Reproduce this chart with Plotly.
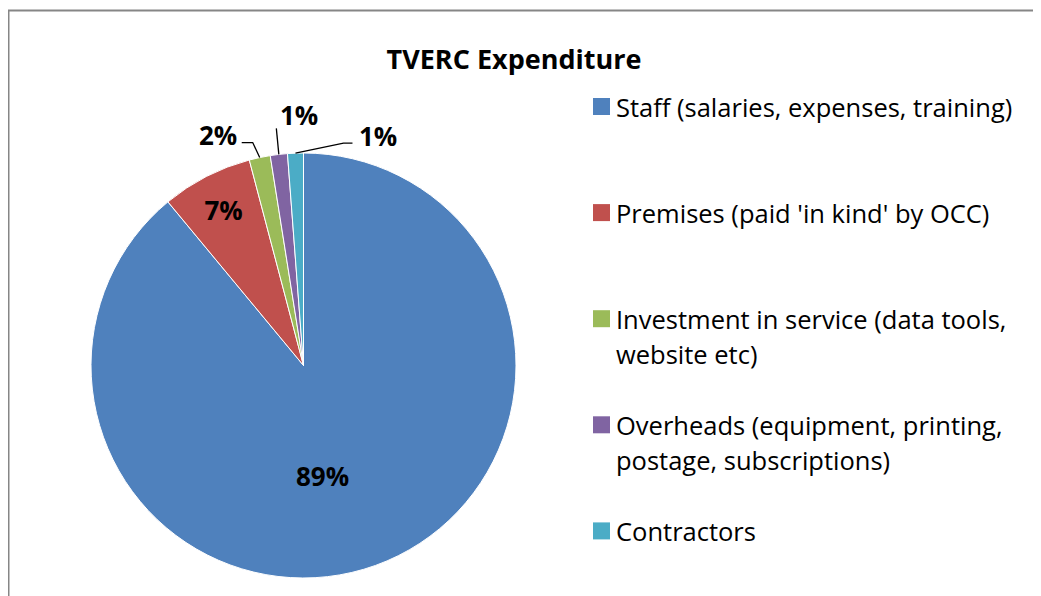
import math
import plotly.graph_objects as go

# data
labels = [
    "Staff (salaries, expenses, training)",
    "Premises (paid 'in kind' by OCC)",
    "Investment in service (data tools,<br>website etc)",
    "Overheads (equipment, printing,<br>postage, subscriptions)",
    "Contractors",
]
values = [88.9, 6.9, 1.6, 1.3, 1.2]
colors = ["#4F81BD", "#C0504D", "#9BBB59", "#8064A2", "#4BACC6"]

# page has an 8px body margin, so the figure is a bit smaller than the window
OFF = 8
W, H = 1041 - OFF, 596 - OFF
FONT = "Open Sans"
LEG_SIZE = 25.5
LAB_SIZE = 26
TITLE_SIZE = 27


def px_x(x):
    return (x - OFF) / W


def px_y(y):
    return 1 - (y - OFF) / H


# pie geometry (window pixels)
cx, cy, r = 303.5, 365.5, 212.5

fig = go.Figure(
    go.Pie(
        labels=[l.replace("<br>", " ") for l in labels],
        values=values,
        sort=False,
        direction="clockwise",
        rotation=0,
        marker=dict(colors=colors, line=dict(color="white", width=1)),
        texttemplate="%{percent:.0%}",
        textposition=["none", "inside", "none", "none", "none"],
        insidetextorientation="horizontal",
        textfont=dict(family=FONT, size=LAB_SIZE, color="black", weight="bold"),
        domain=dict(x=[px_x(cx - r), px_x(cx + r)], y=[px_y(cy + r), px_y(cy - r)]),
        showlegend=False,
        hoverinfo="label+percent",
    )
)

shapes = []
annotations = []
total = sum(values)

# big slice label, Excel puts it a little left of the slice middle
annotations.append(
    dict(
        text=f"<b>{round(100 * values[0] / total)}%</b>",
        x=px_x(cx + 19),
        y=px_y(cy + 110),
        xref="paper",
        yref="paper",
        xanchor="center",
        yanchor="middle",
        showarrow=False,
        font=dict(family=FONT, size=LAB_SIZE, color="black"),
    )
)

# outside labels with leader lines for the small slices
# (elbow dx, elbow dy, end dx, label side)
leaders = {
    2: (-7, -15, -11, "left"),
    3: (-2.5, -26, 0, "up"),
    4: (48, -10, 9, "right"),
}
cum = 0
for i, v in enumerate(values):
    theta = math.radians(360 * (cum + v / 2) / total)
    cum += v
    if i not in leaders:
        continue
    ax_ = cx + r * math.sin(theta)
    ay_ = cy - r * math.cos(theta)
    edx, edy, endx, side = leaders[i]
    ex, ey = ax_ + edx, ay_ + edy
    fx = ex + endx
    shapes.append(
        dict(
            type="path",
            xref="paper",
            yref="paper",
            path=f"M {px_x(ax_)},{px_y(ay_)} L {px_x(ex)},{px_y(ey)} L {px_x(fx)},{px_y(ey)}",
            line=dict(color="black", width=1.3),
        )
    )
    pct = f"<b>{round(100 * v / total)}%</b>"
    if side == "left":
        ann = dict(x=px_x(fx - 3), y=px_y(ey - 8), xanchor="right", yanchor="middle")
    elif side == "right":
        ann = dict(x=px_x(fx + 5), y=px_y(ey - 7), xanchor="left", yanchor="middle")
    else:
        ann = dict(x=px_x(ex + 2), y=px_y(ey + 7), xanchor="left", yanchor="bottom")
    ann.update(
        text=pct,
        showarrow=False,
        xref="paper",
        yref="paper",
        font=dict(family=FONT, size=LAB_SIZE, color="black"),
    )
    annotations.append(ann)

# legend drawn like the Excel one: square marker + wrapped text
leg_x, leg_y0, leg_step, line_h = 593, 106.5, 106.1, 35.5
for i, (lab, col) in enumerate(zip(labels, colors)):
    yc = leg_y0 + i * leg_step
    shapes.append(
        dict(
            type="rect",
            xref="paper",
            yref="paper",
            x0=px_x(leg_x),
            x1=px_x(leg_x + 17),
            y0=px_y(yc + 8.5),
            y1=px_y(yc - 8.5),
            fillcolor=col,
            line=dict(width=0),
        )
    )
    for j, line in enumerate(lab.split("<br>")):
        annotations.append(
            dict(
                text=line,
                x=px_x(leg_x + 21),
                y=px_y(yc + j * line_h),
                xref="paper",
                yref="paper",
                xanchor="left",
                yanchor="middle",
                showarrow=False,
                font=dict(family=FONT, size=LEG_SIZE, color="black"),
            )
        )

# chart frame (left and top edges are visible)
shapes.append(
    dict(
        type="rect",
        xref="paper",
        yref="paper",
        x0=px_x(8.5),
        x1=1.05,
        y0=-0.05,
        y1=px_y(10.5),
        line=dict(color="#868686", width=2),
    )
)

fig.update_layout(
    width=W,
    height=H,
    margin=dict(l=0, r=0, t=0, b=0),
    paper_bgcolor="white",
    plot_bgcolor="white",
    title=dict(
        text="<b>TVERC Expenditure</b>",
        x=px_x(514),
        xanchor="center",
        y=px_y(60),
        yanchor="middle",
        font=dict(family=FONT, size=TITLE_SIZE, color="black"),
    ),
    shapes=shapes,
    annotations=annotations,
)

fig.write_html("out.html")
